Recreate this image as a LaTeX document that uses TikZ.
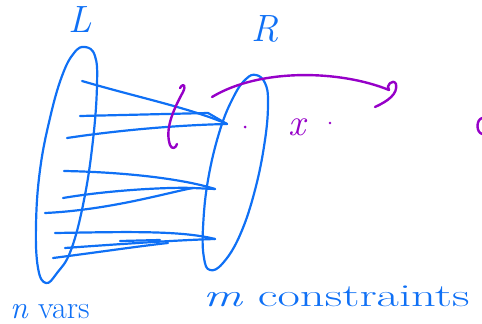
\documentclass[tikz,border=0pt]{standalone}
\usepackage{fontspec}
\usepackage{graphicx}
\definecolor{penblue}{RGB}{15,112,245}
\definecolor{penpurple}{RGB}{150,0,200}
\tikzset{
  bluestroke/.style={draw=penblue, line width=2.2pt, line cap=round, line join=round},
  purplestroke/.style={draw=penpurple, line width=2.4pt, line cap=round, line join=round},
  bluetext/.style={text=penblue, inner sep=0pt},
  purpletext/.style={text=penpurple, inner sep=0pt}
}
\begin{document}
\begin{tikzpicture}[x=1pt,y=-1pt]
\useasboundingbox (0,0) rectangle (482,324);
% labels
\node[bluetext, font=\fontsize{38}{38}\selectfont\itshape] (Llab) at (80,20) {L};
\node[bluetext, font=\fontsize{38}{38}\selectfont\itshape] (Rlab) at (265,29) {R};
\node[bluetext, anchor=base west, font=\fontsize{32}{32}\selectfont] (nvars) at (10,318) {\textit{n} vars};
\node[bluetext, anchor=base west, font=\fontsize{32}{32}\selectfont] (mcons) at (203,306) {\scalebox{1.52}[1]{\textit{m} constraints}};
% left set
\draw[bluestroke] plot[smooth cycle, tension=0.7] coordinates {
 (85,47) (95,56) (97,85) (93,140) (84,200) (71,250) (57,273) (46,283) (38,268) (36,225) (40,170) (50,118) (62,76) (74,53)};
% right set
\draw[bluestroke] plot[smooth cycle, tension=0.7] coordinates {
 (256,75) (265,83) (268,102) (265,140) (255,190) (240,235) (223,263) (210,270) (204,258) (203,228) (208,180) (220,130) (234,96) (246,79)};
% endpoints
\coordinate (a1) at (82,81);
\coordinate (a2) at (80,116);
\coordinate (a3) at (67,138);
\coordinate (a4) at (64,171);
\coordinate (a5) at (63,198);
\coordinate (a6) at (45,213);
\coordinate (a7) at (55,233);
\coordinate (a8) at (65,248);
\coordinate (a9) at (53,258);
\coordinate (r1) at (227,124);
\coordinate (r1b) at (208,113);
\coordinate (r2) at (215,189);
\coordinate (r2b) at (193,188);
\coordinate (r3) at (215,239);
\coordinate (r3b) at (168,243);
% edges
\draw[bluestroke] (a1) .. controls (140,98) and (190,108) .. (r1);
\draw[bluestroke] (a2) -- (r1b) -- (r1);
\draw[bluestroke] (a3) .. controls (120,130) and (180,125) .. (r1);
\draw[bluestroke] (a4) .. controls (120,172) and (180,178) .. (r2);
\draw[bluestroke] (a5) .. controls (110,190) and (170,187) .. (r2b) -- (r2);
\draw[bluestroke] (a6) .. controls (110,210) and (170,192) .. (r2b);
\draw[bluestroke] (a7) .. controls (120,232) and (180,230) .. (r3);
\draw[bluestroke] (a8) .. controls (120,244) and (180,240) .. (r3);
\draw[bluestroke] (120,241) -- (160,240);
\draw[bluestroke] (a9) .. controls (100,252) and (140,246) .. (r3b);
% purple bracket
\draw[purplestroke] (180,88) .. controls (184,82) and (186,86) .. (183,92)
  .. controls (172,112) and (165,130) .. (170,145) .. controls (172,150) and (176,148) .. (177,144);
% purple arrow
\coordinate (p0) at (212,97);
\coordinate (p1) at (389,90);
\coordinate (p2) at (375,107);
\draw[purplestroke] (p0) .. controls (260,68) and (340,70) .. (p1)
  .. controls (385,86) and (393,78) .. (396,84) .. controls (398,94) and (388,101) .. (p2);
% dots and x
\fill[penpurple] (245,127) circle (1.5pt);
\fill[penpurple] (330,123) circle (1.3pt);
\node[purpletext, font=\fontsize{38}{38}\selectfont\itshape] (xlab) at (297,127) {x};
\draw[purplestroke] (482,118) .. controls (476,120) and (476,132) .. (482,134);
\end{tikzpicture}
\end{document}
